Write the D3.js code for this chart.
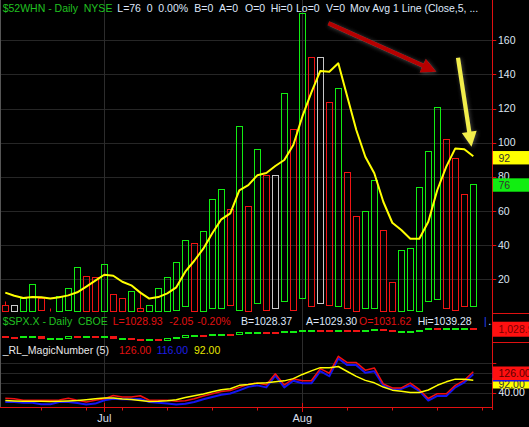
<!DOCTYPE html>
<html>
<head>
<meta charset="utf-8">
<script src="https://cdn.jsdelivr.net/npm/d3@7"></script>
<style>
  html, body { margin: 0; padding: 0; background: #000; }
  svg { display: block; }
  text { font-family: "Liberation Sans", Arial, sans-serif; font-size: 10.5px; }
</style>
</head>
<body>
<script>
// sessions on the chart, Jun 16 - Aug 28 2009
var dates = [
  "2009-06-16","2009-06-17","2009-06-18","2009-06-19","2009-06-22","2009-06-23","2009-06-24","2009-06-25","2009-06-26","2009-06-29","2009-06-30",
  "2009-07-01","2009-07-02","2009-07-06","2009-07-07","2009-07-08","2009-07-09","2009-07-10","2009-07-13","2009-07-14","2009-07-15","2009-07-16",
  "2009-07-17","2009-07-20","2009-07-21","2009-07-22","2009-07-23","2009-07-24","2009-07-27","2009-07-28","2009-07-29","2009-07-30","2009-07-31",
  "2009-08-03","2009-08-04","2009-08-05","2009-08-06","2009-08-07","2009-08-10","2009-08-11","2009-08-12","2009-08-13","2009-08-14",
  "2009-08-17","2009-08-18","2009-08-19","2009-08-20","2009-08-21","2009-08-24","2009-08-25","2009-08-26","2009-08-27","2009-08-28"
];

// $52WHN - new 52 week highs: close (top of box), low (bottom of box), high (wick)
var whnClose = [5,5,9,17,9,1,10,15,27,22,21,29,11,9,13,3,5,15,21,30,43,41,48,67,73,61,110,63,96,81,81,129,108,176,150,150,124,132,83,57,60,78,49,18,37,38,74,95,121,102,91,70,76];
var whnLow   = [1,1,1,1,2,1,1,2,1,1,1,1,1,1,1,1,1,1,1,2,4,1,1,3,3,5,2,1,6,2,3,7,2,9,4,6,5,4,3,1,3,3,1,1,1,2,1,7,8,3,2,4,4];
var whnHigh  = [7,5,9,17,9,3,10,15,27,22,21,29,11,9,13,13,5,15,21,30,43,41,48,67,73,61,110,63,96,81,81,129,108,176,150,150,124,132,83,57,60,78,49,18,37,38,74,95,121,102,91,70,76];
var whnPrior = 8;   // close of the session before the first bar
// Mov Avg 1 Line (Close,5) as plotted
var whnMA = [12.0,10.2,8.9,9.4,9.3,8.5,9.3,10.4,12.2,15.5,19.0,22.5,21.9,18.4,16.3,12.0,8.5,9.4,11.6,15.1,24.3,30.7,37.8,46.8,55.0,58.5,
  72.0,75.1,80.8,82.2,86.3,89.8,98.6,115.2,129.3,142.0,141.5,146.5,126.9,107.4,91.7,82.0,65.3,53.0,48.7,43.6,43.6,53.6,72.2,85.9,96.6,96.1,92.0];

// $SPX.X
var spxOpen  = [923.4,911.9,910.3,920.0,918.1,893.5,896.3,899.5,918.8,919.9,927.2,920.8,921.2,894.3,898.6,881.9,881.3,880.0,879.6,900.8,910.2,930.2,940.6,
  942.1,953.4,953.4,954.1,970.2,978.6,981.5,977.7,976.0,986.8,990.2,1001.4,1005.4,1003.5,999.8,1008.9,1005.8,994.0,1005.9,1012.2,
  998.2,980.6,986.9,996.4,1009.1,1026.6,1026.6,1027.8,1027.3,1031.62];
var spxClose = [912.0,910.7,918.4,921.2,893.0,895.1,900.9,920.3,918.9,927.2,919.3,923.3,896.4,898.7,881.0,879.6,882.7,879.1,901.1,905.8,932.7,940.7,940.4,
  951.1,954.6,954.1,976.3,979.3,982.2,979.6,975.2,986.8,987.5,1002.6,1005.7,1002.7,997.1,1010.5,1007.1,994.4,1005.8,1012.7,1004.1,
  979.7,989.7,996.5,1007.4,1026.1,1025.6,1028.0,1028.1,1031.0,1028.93];
var spxPrior = 923.7;

// _RL_MagicNumber (5)
var magicRed  = [21,19,13,13,13,13,14,21,13,6,13,19,32,26,26,31,13,13,13,9,11,19,30,39,48,52,
  64,76,81,74,118,74,98,90,90,138,120,187,162,162,132,141,78,62,62,81,56,20,39,39,72,92,126];
var magicBlue = [6,6,3,3,-3,-3,6,6,2,-4,0,13,19,17,17,18,6,3,0,-4,-1,6,17,26,35,40,
  52,66,72,64,110,64,90,80,80,128,108,178,152,152,122,128,72,56,58,72,50,12,30,30,64,84,116];
var magicYellow = whnMA;

var whnTicks = [20, 40, 60, 80, 100, 120, 140, 160];
var magicTicks = [40, 80, 120, 160];
var magicLabelTicks = [40];

// header captions: text, colour, left edge
var whnHead = [
  ["$52WHN - Daily  NYSE", "#20c020", 2.7], ["L=76", "#dfe8fb", 117.3], ["0", "#dfe8fb", 146.7], ["0.00%", "#dfe8fb", 158.3],
  ["B=0", "#dfe8fb", 194.3], ["A=0", "#dfe8fb", 219], ["O=0", "#dfe8fb", 245], ["Hi=0", "#dfe8fb", 270.7],
  ["Lo=0", "#dfe8fb", 296], ["V=0", "#dfe8fb", 326], ["Mov Avg 1 Line (Close,5, ...", "#dfe8fb", 350]
];
var spxHead = [
  ["$SPX.X - Daily  CBOE", "#20c020", 2.7], ["L=1028.93", "#e01010", 112.7], ["-2.05", "#e01010", 169.3], ["-0.20%", "#e01010", 197.3],
  ["B=1028.37", "#dfe8fb", 241], ["A=1029.30", "#dfe8fb", 306], ["O=1031.62", "#e01010", 359],
  ["Hi=1039.28", "#dfe8fb", 417.7], ["|", "#2040ff", 484], ["...", "#dfe8fb", 488.3]
];
var magicHead = [
  ["_RL_MagicNumber (5)", "#e8e8e8", 2.7], ["126.00", "#e01010", 119], ["116.00", "#1f1fe6", 156.7], ["92.00", "#e6e600", 194]
];

// arrows drawn on the chart, in [bar index, value]
var arrows = [
  {from: [35.9, 170], to: [47.9, 141.6], color: "#b50000"},
  {from: [50.3, 149.8], to: [51.8, 97.6], color: "#f2ee4c"}
];

var W = 529, H = 427, axisX = 492.3;
var GREEN = "#12ec12", RED = "#f01414", WHITE = "#c8c8c8", GRID = "#262626";

var parseDate = d3.timeParse("%Y-%m-%d");
var days = dates.map(parseDate);

var svg = d3.select("body").append("svg")
    .attr("width", W).attr("height", H);
svg.append("rect").attr("width", W).attr("height", H).attr("fill", "#000");

var defs = svg.append("defs");
defs.append("filter").attr("id", "glow").attr("x", "-30%").attr("y", "-30%").attr("width", "160%").attr("height", "160%")
  .append("feDropShadow").attr("dx", 1).attr("dy", 1).attr("stdDeviation", 2.2)
  .attr("flood-color", "#777").attr("flood-opacity", 0.6);

// scales
var x = d3.scaleLinear().domain([0, dates.length - 1]).range([5.3, 473.3]);
var yTop = d3.scaleLinear().domain([0, 160]).range([313.1, 40.3]);
var ySpx = d3.scaleLinear().domain([860, 1060]).range([340.8, 325.8]);
var yLow = d3.scaleLinear().domain([92, 126]).range([380.3, 371.7]);

function px(v) { return Math.round(v) + 0.5; }
function dirColor(i, closes, prior) {
  var prev = i ? closes[i - 1] : prior;
  return closes[i] > prev ? GREEN : closes[i] < prev ? RED : WHITE;
}

// month starts and weekly (Monday) ticks
var monthStarts = [], weekTicks = [];
days.forEach(function(d, i) {
  if (i > 0 && d.getMonth() !== days[i - 1].getMonth()) monthStarts.push(i);
  if (d.getDay() === 1) weekTicks.push(i);
});
if (days[days.length - 1].getDay() === 5) weekTicks.push(dates.length);

// ---- grids
var grid = svg.append("g");
grid.selectAll(".hg").data(whnTicks).enter().append("line")
  .attr("x1", 0).attr("x2", axisX).attr("y1", function(d) { return px(yTop(d)); }).attr("y2", function(d) { return px(yTop(d)); })
  .attr("stroke", GRID);
grid.selectAll(".lg").data(magicTicks).enter().append("line")
  .attr("x1", 0).attr("x2", axisX).attr("y1", function(d) { return px(yLow(d)); }).attr("y2", function(d) { return px(yLow(d)); })
  .attr("stroke", GRID);
grid.selectAll(".vg").data(monthStarts).enter().append("line")
  .attr("x1", function(i) { return px(x(i)); }).attr("x2", function(i) { return px(x(i)); })
  .attr("y1", 0).attr("y2", 407).attr("stroke", "#2c2c2c");
svg.append("line").attr("x1", 0.5).attr("x2", 0.5).attr("y1", 0).attr("y2", 407).attr("stroke", "#555");

// ---- $52WHN bars
var bars = svg.append("g");
bars.selectAll("rect").data(whnClose).enter().append("rect")
  .attr("x", function(d, i) { return Math.round(x(i)) - 3 + 0.5; })
  .attr("y", function(d) { return px(yTop(d)); })
  .attr("width", 6)
  .attr("height", function(d, i) { return Math.max(0, px(yTop(whnLow[i])) - px(yTop(d))); })
  .attr("fill", "none")
  .attr("stroke", function(d, i) { return dirColor(i, whnClose, whnPrior); });
bars.selectAll("line").data(whnHigh).enter().append("line")
  .attr("x1", function(d, i) { return px(x(i)); }).attr("x2", function(d, i) { return px(x(i)); })
  .attr("y1", function(d) { return px(yTop(d)); })
  .attr("y2", function(d, i) { return px(yTop(whnClose[i])); })
  .attr("stroke", function(d, i) { return dirColor(i, whnClose, whnPrior); });

// moving average
svg.append("path").datum(whnMA)
  .attr("fill", "none").attr("stroke", "#ffff00").attr("stroke-width", 2).attr("stroke-linejoin", "round")
  .attr("d", d3.line().x(function(d, i) { return x(i); }).y(function(d) { return yTop(d); }));

// arrows
arrows.forEach(function(a) {
  var x1 = x(a.from[0]), y1 = yTop(a.from[1]), x2 = x(a.to[0]), y2 = yTop(a.to[1]);
  var dx = x2 - x1, dy = y2 - y1, len = Math.hypot(dx, dy), ux = dx / len, uy = dy / len, nx = -uy, ny = ux;
  var hl = 15, hw = 7.5, sw = 2.1, bx = x2 - ux * hl, by = y2 - uy * hl;
  var pts = [[x1 + nx * sw, y1 + ny * sw], [bx + nx * sw, by + ny * sw], [bx + nx * hw, by + ny * hw], [x2, y2],
             [bx - nx * hw, by - ny * hw], [bx - nx * sw, by - ny * sw], [x1 - nx * sw, y1 - ny * sw]];
  svg.append("polygon").attr("points", pts.map(function(p) { return p.join(","); }).join(" "))
    .attr("fill", a.color).attr("filter", "url(#glow)");
});

// ---- $SPX.X mini panel
var spx = svg.append("g");
spx.selectAll("rect").data(spxClose).enter().append("rect")
  .attr("x", function(d, i) { return Math.round(x(i)) - 3 + 0.5; })
  .attr("y", function(d, i) { return px(Math.min(ySpx(d), ySpx(spxOpen[i]))); })
  .attr("width", 6)
  .attr("height", function(d, i) { return Math.max(1, Math.round(Math.abs(ySpx(d) - ySpx(spxOpen[i])))); })
  .attr("fill", function(d, i) { return d >= spxOpen[i] ? "none" : dirColor(i, spxClose, spxPrior); })
  .attr("stroke", function(d, i) { return dirColor(i, spxClose, spxPrior); });

// ---- _RL_MagicNumber lines
var lowLine = d3.line().x(function(d, i) { return x(i); }).y(function(d) { return yLow(d); });
[[magicBlue, "#1414f0", 2], [magicRed, "#f01010", 1.5], [magicYellow, "#ffff00", 1.5]].forEach(function(s) {
  svg.append("path").datum(s[0]).attr("fill", "none").attr("stroke", s[1]).attr("stroke-width", s[2])
    .attr("stroke-linejoin", "round").attr("d", lowLine);
});

// ---- captions
function caption(parts, y) {
  var g = svg.append("g");
  g.selectAll("text").data(parts).enter().append("text")
    .attr("x", function(p) { return p[2]; }).attr("y", y)
    .attr("fill", function(p) { return p[1]; })
    .attr("xml:space", "preserve").style("white-space", "pre")
    .text(function(p) { return p[0]; });
}
caption(whnHead, 11.7);
caption(spxHead, 325);
caption(magicHead, 353.5);

// ---- right axis
var ax = svg.append("g");
ax.append("line").attr("x1", px(axisX)).attr("x2", px(axisX)).attr("y1", 0).attr("y2", 410).attr("stroke", "#e01010");
[313.5, 342.5].forEach(function(y) {
  ax.append("line").attr("x1", axisX).attr("x2", W).attr("y1", y).attr("y2", y).attr("stroke", "#e01010");
});
ax.selectAll(".tt").data(whnTicks).enter().append("line")
  .attr("x1", axisX).attr("x2", axisX + 4).attr("y1", function(d) { return px(yTop(d)); }).attr("y2", function(d) { return px(yTop(d)); })
  .attr("stroke", "#e01010");
ax.selectAll(".tl").data(whnTicks).enter().append("text")
  .attr("x", 498).attr("y", function(d) { return yTop(d) + 3.7; })
  .attr("fill", "#dde6f2").text(function(d) { return d; });
ax.selectAll(".mt").data(magicTicks).enter().append("line")
  .attr("x1", axisX).attr("x2", axisX + 4).attr("y1", function(d) { return px(yLow(d)); }).attr("y2", function(d) { return px(yLow(d)); })
  .attr("stroke", "#e01010");

function tag(yv, text, bg, fg, top, height, base) {
  ax.append("rect").attr("x", axisX + 0.5).attr("y", yv + top).attr("width", W - axisX).attr("height", height).attr("fill", bg);
  if (text) ax.append("text").attr("x", 498.5).attr("y", yv + base).attr("fill", fg).text(text);
}
var last = dates.length - 1;
tag(yTop(whnMA[last]), d3.format("d")(whnMA[last]), "#ffff00", "#333", -5.2, 13.4, 5.3);
tag(yTop(whnClose[last]), d3.format("d")(whnClose[last]), "#11ee11", "#333", -5.2, 13.4, 5.3);
tag(ySpx(spxClose[last]), d3.format(",.2f")(spxClose[last]), "#ff1010", "#7a0000", -6.4, 15, 5.3);

ax.selectAll(".ml").data(magicLabelTicks).enter().append("text")
  .attr("x", 498.5).attr("y", function(d) { return yLow(d) + 3; })
  .attr("fill", "#e8eef8").text(function(d) { return d3.format(".2f")(d); });
tag(yLow(magicYellow[last]), d3.format(".2f")(magicYellow[last]), "#ffff00", "#333", -2.3, 10.5, 7.2);
tag(yLow(magicBlue[last]), null, "#1414f0", null, -6.5, 13.8, 4.5);
tag(yLow(magicRed[last]), d3.format(".2f")(magicRed[last]), "#ff1010", "#5a0000", -5.2, 13.5, 5.3);

// ---- bottom date axis
var xa = svg.append("g");
xa.append("line").attr("x1", 0).attr("x2", axisX).attr("y1", 407.5).attr("y2", 407.5).attr("stroke", "#e01010");
xa.selectAll(".wt").data(weekTicks).enter().append("line")
  .attr("x1", function(i) { return px(x(i)); }).attr("x2", function(i) { return px(x(i)); })
  .attr("y1", 408).attr("y2", 410.5).attr("stroke", "#e01010");
xa.selectAll(".mt").data(monthStarts).enter().append("line")
  .attr("x1", function(i) { return px(x(i)); }).attr("x2", function(i) { return px(x(i)); })
  .attr("y1", 403).attr("y2", 412).attr("stroke", "#e01010");
xa.selectAll(".ml").data(monthStarts).enter().append("text")
  .attr("x", function(i) { return x(i); }).attr("y", 422.3)
  .attr("text-anchor", "middle").attr("fill", "#d6deea").style("font-size", "11px")
  .text(function(i) { return d3.timeFormat("%b")(days[i]); });
</script>
</body>
</html>
